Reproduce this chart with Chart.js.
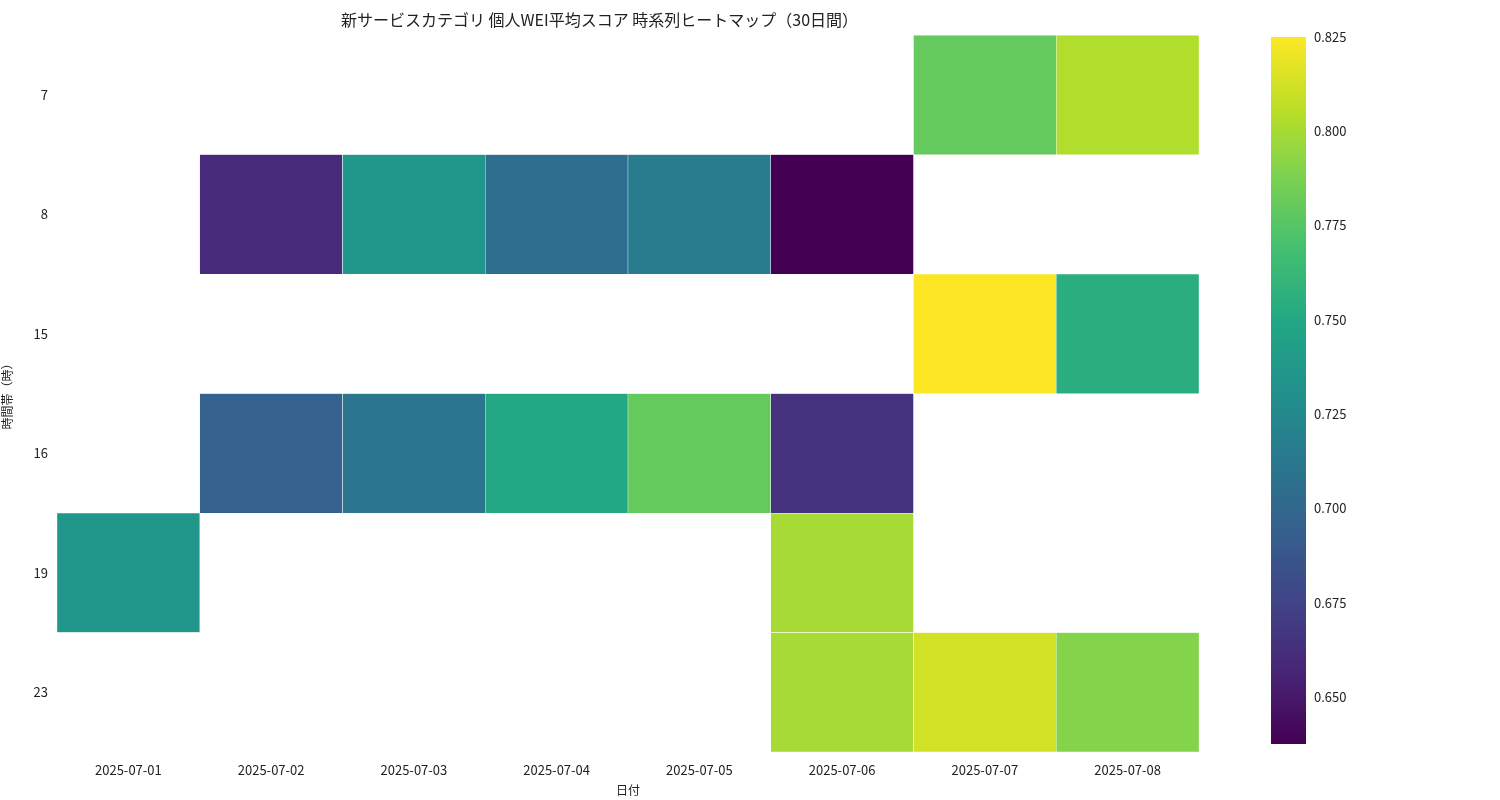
<!DOCTYPE html>
<html>
<head>
<meta charset="utf-8">
<script src="https://cdn.jsdelivr.net/npm/chart.js@4"></script>
<style>
  body { margin: 0; background: #fff; }
  #main { position: absolute; left: 0; top: 0; }
  #bar { position: absolute; left: 1210px; top: 0; }
</style>
</head>
<body>
<canvas id="main" width="1220" height="800"></canvas>
<canvas id="bar" width="140" height="800"></canvas>
<script>
// data
const dates = ["2025-07-01","2025-07-02","2025-07-03","2025-07-04","2025-07-05","2025-07-06","2025-07-07","2025-07-08"];
const hours = ["7","8","15","16","19","23"];
const h7  = [null, null, null, null, null, null, 0.780, 0.803];
const h8  = [null, 0.660, 0.735, 0.705, 0.715, 0.6375, null, null];
const h15 = [null, null, null, null, null, null, 0.825, 0.755];
const h16 = [null, 0.695, 0.710, 0.750, 0.780, 0.665, null, null];
const h19 = [0.735, null, null, null, null, 0.800, null, null];
const h23 = [null, null, null, null, null, 0.800, 0.812, 0.790];
const rows = [h7, h8, h15, h16, h19, h23];
const vmin = 0.6375, vmax = 0.825;

const FONT = "'Noto Sans CJK JP', 'Noto Sans', sans-serif";
Chart.defaults.font.family = FONT;
Chart.defaults.color = "#222";

// viridis colour stops
const viridis = ["#440154","#482475","#414487","#355f8d","#2a788e","#21918c","#22a884","#44bf70","#7ad151","#bddf26","#fde725"];
function hex(c) { return [1, 3, 5].map(i => parseInt(c.substr(i, 2), 16)); }
function cmap(v) {
  let t = Math.max(0, Math.min(1, (v - vmin) / (vmax - vmin))) * 10;
  let i = Math.min(9, Math.floor(t)), f = t - i;
  let a = hex(viridis[i]), b = hex(viridis[i + 1]);
  let c = a.map((x, k) => Math.round(x + (b[k] - x) * f));
  return "rgb(" + c.join(",") + ")";
}

const datasets = rows.map((r, i) => ({
  label: hours[i],
  data: r.map(v => v == null ? null : [i, i + 1]),
  backgroundColor: r.map(v => v == null ? "transparent" : cmap(v)),
  borderColor: "#fff",
  borderWidth: r.map(v => v == null ? 0 : 0.5),
  borderSkipped: false,
  grouped: false,
  barPercentage: 1,
  categoryPercentage: 1
}));

new Chart(document.getElementById("main"), {
  type: "bar",
  data: { labels: dates, datasets: datasets },
  options: {
    responsive: false,
    animation: false,
    layout: { padding: { left: 0, right: 21, top: 0, bottom: 0 } },
    plugins: {
      legend: { display: false },
      tooltip: { enabled: false },
      title: {
        display: true,
        text: "新サービスカテゴリ 個人WEI平均スコア 時系列ヒートマップ（30日間）",
        font: { size: 16, weight: "normal" },
        padding: { top: 10, bottom: 6 }
      }
    },
    scales: {
      x: {
        grid: { display: false, drawTicks: true, tickLength: 6 },
        border: { display: false },
        ticks: { font: { size: 13 }, padding: 4 },
        title: { display: true, text: "日付", font: { size: 12 }, padding: 2 }
      },
      y: {
        min: 0, max: 6, reverse: true,
        grid: { display: false, tickLength: 6 },
        border: { display: false },
        afterBuildTicks: ax => { ax.ticks = hours.map((h, i) => ({ value: i + 0.5 })); },
        afterFit: ax => { ax.width = 57; },
        ticks: { font: { size: 13 }, callback: (v) => hours[Math.floor(v)] },
        title: { display: true, text: "時間帯（時）", font: { size: 12 }, padding: 0 }
      }
    }
  }
});

// colorbar
const gradientPlugin = {
  id: "gradient",
  beforeDatasetsDraw(chart) {
    const a = chart.chartArea, ctx = chart.ctx;
    const g = ctx.createLinearGradient(0, a.bottom, 0, a.top);
    viridis.forEach((c, i) => g.addColorStop(i / 10, c));
    ctx.fillStyle = g;
    ctx.fillRect(a.left, a.top, a.right - a.left, a.bottom - a.top);
  }
};
new Chart(document.getElementById("bar"), {
  type: "scatter",
  data: { datasets: [{ data: [] }] },
  plugins: [gradientPlugin],
  options: {
    responsive: false,
    animation: false,
    layout: { padding: { left: 61, top: 37, bottom: 56, right: 0 } },
    plugins: { legend: { display: false }, tooltip: { enabled: false } },
    scales: {
      x: { display: false, min: 0, max: 1 },
      y: {
        position: "right",
        min: vmin, max: vmax,
        grid: { display: false, tickLength: 5, drawTicks: true },
        border: { display: false },
        afterBuildTicks: ax => {
          const t = [];
          for (let v = 0.65; v <= 0.8251; v += 0.025) t.push({ value: +v.toFixed(3) });
          ax.ticks = t;
        },
        afterFit: ax => { ax.width = 44; },
        ticks: { font: { size: 13 }, padding: 3, callback: v => v.toFixed(3) }
      }
    }
  }
});
</script>
</body>
</html>
